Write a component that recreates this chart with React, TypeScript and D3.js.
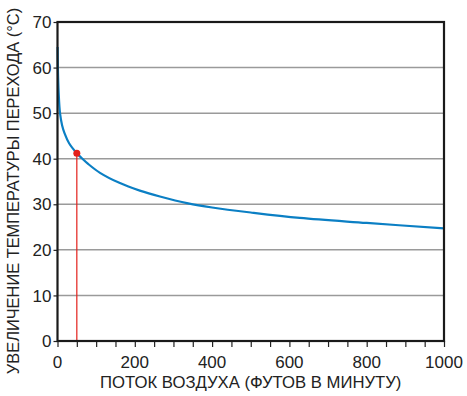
import { useEffect, useRef } from 'react';
import * as d3 from 'd3';

// airflow (ft/min) vs junction temperature rise (°C)
const airflow = [0.3, 1, 3, 6.5, 12, 18.6, 30, 50, 63, 80, 110, 160, 213, 265, 338, 400, 500, 627, 800, 1000];
const tempRise = [64.5, 60, 54.5, 50, 47.3, 45.5, 43.4, 41.2, 40.1, 38.8, 36.9, 34.7, 33.0, 31.7, 30.2, 29.3, 28.2, 27, 25.9, 24.7];
const marker = { x: 50, y: 41.2 };
const xTicks = [0, 200, 400, 600, 800, 1000];
const yTicks = [0, 10, 20, 30, 40, 50, 60, 70];

const W = 467;
const H = 396;
const margin = { top: 22, right: 23, bottom: 55, left: 57.5 };

export default function App() {
  const svgRef = useRef<SVGSVGElement>(null);

  useEffect(() => {
    if (!svgRef.current) return;
    const root = d3.select(svgRef.current);
    root.selectAll('*').remove();

    const iw = W - margin.left - margin.right;
    const ih = H - margin.top - margin.bottom;
    const x = d3.scaleLinear().domain([0, 1000]).range([0, iw]);
    const y = d3.scaleLinear().domain([0, 70]).range([ih, 0]);
    const font = 'Liberation Sans, Arial, sans-serif';

    const g = root.append('g').attr('transform', `translate(${margin.left},${margin.top})`);

    // gridlines
    g.selectAll('line.grid')
      .data(yTicks.filter((t) => t > 0 && t < 70))
      .enter()
      .append('line')
      .attr('x1', 0)
      .attr('x2', iw)
      .attr('y1', (d) => y(d))
      .attr('y2', (d) => y(d))
      .attr('stroke', '#9a9a9a')
      .attr('stroke-width', 1.5);

    // x minor ticks every 50
    const xAxis = d3
      .axisBottom(x)
      .tickValues(d3.range(0, 1001, 50))
      .tickSize(6)
      .tickFormat(() => '');
    const xg = g.append('g').attr('transform', `translate(0,${ih})`).call(xAxis);
    xg.select('.domain').remove();
    xg.selectAll('line').attr('stroke', '#222').attr('stroke-width', 1.2);

    g.selectAll('text.xt')
      .data(xTicks)
      .enter()
      .append('text')
      .attr('x', (d) => x(d))
      .attr('y', ih + 27)
      .attr('text-anchor', 'middle')
      .attr('font-family', font)
      .attr('font-size', 17)
      .attr('fill', '#222')
      .text((d) => d);

    const yAxis = d3.axisLeft(y).tickValues(yTicks).tickSize(4).tickFormat(() => '');
    const yg = g.append('g').call(yAxis);
    yg.select('.domain').remove();
    yg.selectAll('line').attr('stroke', '#222').attr('stroke-width', 1.2);

    g.selectAll('text.yt')
      .data(yTicks)
      .enter()
      .append('text')
      .attr('x', -6)
      .attr('y', (d) => y(d))
      .attr('dy', '0.36em')
      .attr('text-anchor', 'end')
      .attr('font-family', font)
      .attr('font-size', 17)
      .attr('fill', '#222')
      .text((d) => d);

    // red marker line
    g.append('line')
      .attr('x1', x(marker.x))
      .attr('x2', x(marker.x))
      .attr('y1', y(marker.y))
      .attr('y2', ih)
      .attr('stroke', '#e3201b')
      .attr('stroke-width', 1.2);

    // curve
    const line = d3
      .line<number>()
      .x((_, i) => x(airflow[i]))
      .y((d) => y(d))
      .curve(d3.curveCatmullRom.alpha(0.5));
    g.append('path')
      .datum(tempRise)
      .attr('d', line)
      .attr('fill', 'none')
      .attr('stroke', '#0b7fc4')
      .attr('stroke-width', 2.2);

    g.append('circle')
      .attr('cx', x(marker.x))
      .attr('cy', y(marker.y))
      .attr('r', 3.5)
      .attr('fill', '#e3201b');

    // frame
    g.append('rect')
      .attr('x', 0)
      .attr('y', 0)
      .attr('width', iw)
      .attr('height', ih)
      .attr('fill', 'none')
      .attr('stroke', '#1a1a1a')
      .attr('stroke-width', 2.2);

    root
      .append('text')
      .attr('x', margin.left + iw / 2)
      .attr('y', 388)
      .attr('text-anchor', 'middle')
      .attr('font-family', font)
      .attr('font-size', 16.7)
      .attr('fill', '#222')
      .text('ПОТОК ВОЗДУХА (ФУТОВ В МИНУТУ)');

    root
      .append('text')
      .attr('transform', `translate(19,${191}) rotate(-90)`)
      .attr('text-anchor', 'middle')
      .attr('font-family', font)
      .attr('font-size', 16.4)
      .attr('fill', '#222')
      .text('УВЕЛИЧЕНИЕ ТЕМПЕРАТУРЫ ПЕРЕХОДА (°C)');
  }, []);

  return <svg ref={svgRef} width={W} height={H} style={{ display: 'block', position: 'absolute', left: 0, top: 0 }} />;
}
